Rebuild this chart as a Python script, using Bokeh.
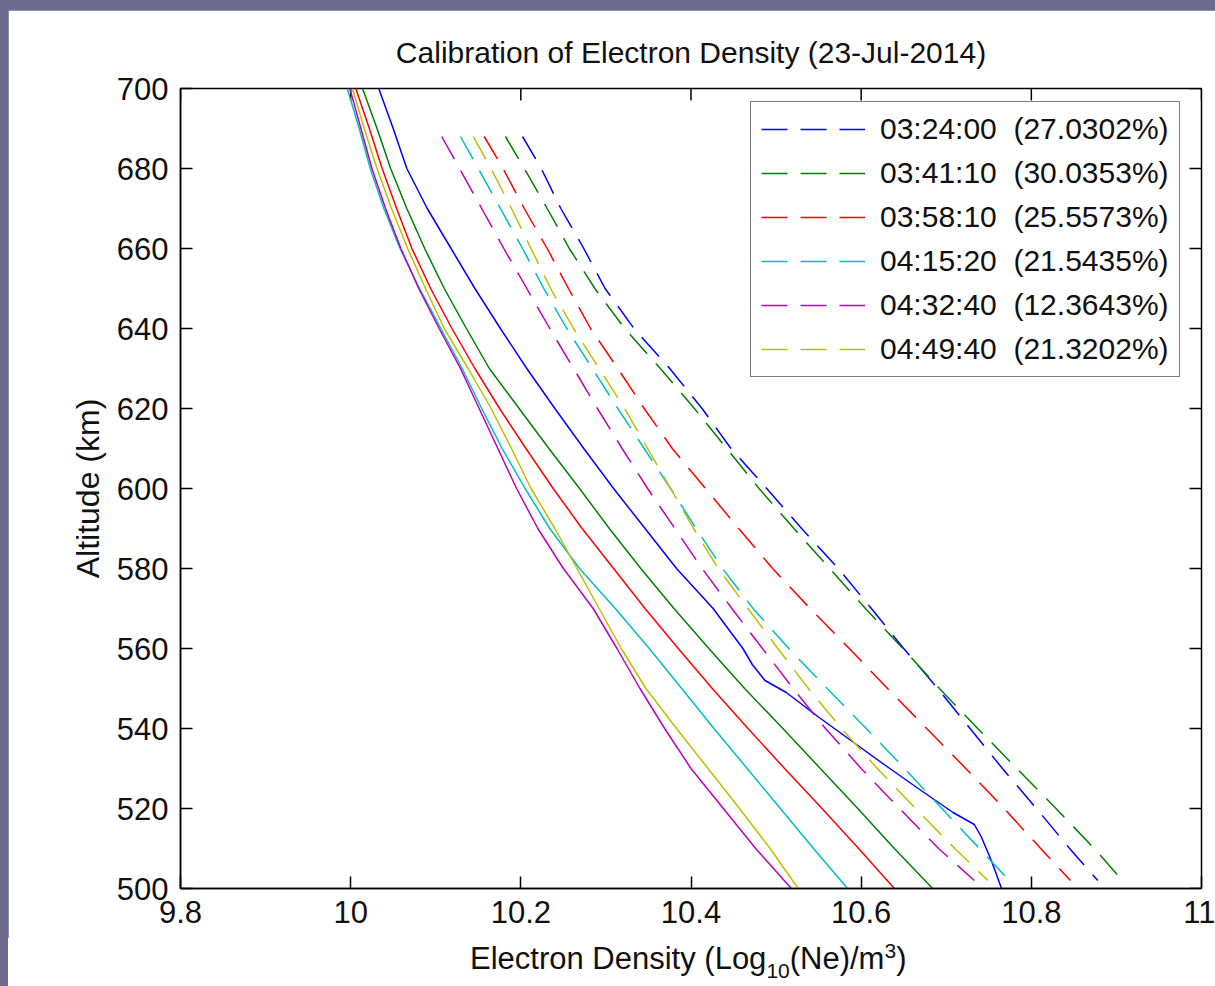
from bokeh.plotting import figure
from bokeh.models import FixedTicker, Legend, LegendItem, Range1d, Div
from bokeh.layouts import column, row
from bokeh.embed import file_html
from bokeh.resources import INLINE

# ---------------- data ----------------
ALT_SOLID = [700, 690, 680, 670, 660, 650, 640, 630, 620, 610, 600,
             590, 580, 570, 560, 550, 540, 530, 520, 510, 500]
ALT_SOLID_BLUE = [700, 690, 680, 670, 660, 650, 640, 630, 620, 610, 600, 590, 580,
                  570, 560, 556, 552, 549, 543, 537, 531, 525, 519, 516, 513, 507, 500]
ALT_DASH = [688, 680, 670, 660, 650, 640, 630, 620, 610, 600,
            590, 580, 570, 560, 550, 540, 530, 520, 510, 502]

solid_blue = [10.033, 10.050, 10.066, 10.090, 10.118, 10.146, 10.176, 10.207, 10.240, 10.274,
              10.309, 10.346, 10.383, 10.426, 10.461, 10.472, 10.487, 10.512, 10.549, 10.588,
              10.627, 10.667, 10.708, 10.733, 10.741, 10.753, 10.765]
solid_green = [10.014, 10.031, 10.047, 10.066, 10.087, 10.110, 10.136, 10.163, 10.198, 10.233,
               10.269, 10.304, 10.341, 10.380, 10.421, 10.463, 10.508, 10.552, 10.596, 10.639, 10.684]
solid_red = [10.006, 10.022, 10.037, 10.054, 10.072, 10.094, 10.119, 10.146, 10.175, 10.206,
             10.238, 10.272, 10.309, 10.346, 10.385, 10.425, 10.467, 10.510, 10.554, 10.597, 10.639]
solid_cyan = [9.996, 10.010, 10.023, 10.039, 10.058, 10.081, 10.106, 10.131, 10.154, 10.178,
              10.205, 10.234, 10.269, 10.311, 10.351, 10.389, 10.427, 10.466, 10.505, 10.544, 10.584]
solid_magenta = [9.999, 10.012, 10.025, 10.041, 10.059, 10.080, 10.104, 10.129, 10.151, 10.173,
                 10.195, 10.220, 10.250, 10.285, 10.313, 10.340, 10.369, 10.400, 10.438, 10.476, 10.518]
solid_yellow = [10.002, 10.016, 10.031, 10.048, 10.067, 10.088, 10.110, 10.138, 10.165, 10.189,
                10.212, 10.240, 10.266, 10.292, 10.318, 10.347, 10.383, 10.420, 10.457, 10.493, 10.526]

dash_blue = [10.202, 10.224, 10.247, 10.274, 10.299, 10.333, 10.375, 10.413, 10.447, 10.489,
             10.530, 10.573, 10.612, 10.650, 10.690, 10.728, 10.766, 10.806, 10.845, 10.878]
dash_green = [10.182, 10.204, 10.231, 10.257, 10.287, 10.322, 10.364, 10.404, 10.442, 10.480,
              10.521, 10.563, 10.605, 10.649, 10.692, 10.737, 10.783, 10.829, 10.874, 10.907]
dash_red = [10.157, 10.179, 10.204, 10.231, 10.256, 10.282, 10.314, 10.345, 10.378, 10.417,
            10.456, 10.496, 10.540, 10.586, 10.631, 10.677, 10.723, 10.768, 10.811, 10.846]
dash_cyan = [10.129, 10.150, 10.176, 10.202, 10.227, 10.254, 10.284, 10.314, 10.345, 10.376,
             10.406, 10.437, 10.473, 10.515, 10.560, 10.606, 10.651, 10.695, 10.739, 10.774]
dash_magenta = [10.107, 10.128, 10.154, 10.180, 10.207, 10.234, 10.262, 10.290, 10.319, 10.349,
                10.381, 10.413, 10.448, 10.484, 10.520, 10.558, 10.600, 10.645, 10.691, 10.733]
dash_yellow = [10.144, 10.165, 10.189, 10.212, 10.235, 10.262, 10.292, 10.322, 10.349, 10.376,
               10.403, 10.432, 10.467, 10.502, 10.538, 10.577, 10.619, 10.664, 10.710, 10.749]

times = ["03:24:00", "03:41:10", "03:58:10", "04:15:20", "04:32:40", "04:49:40"]
percents = ["27.0302", "30.0353", "25.5573", "21.5435", "12.3643", "21.3202"]
colors = ["#0000ff", "#008000", "#ff0000", "#00bfbf", "#bf00bf", "#bfbf00"]

X_TICKS = [9.8, 10.0, 10.2, 10.4, 10.6, 10.8, 11.0]
X_TICK_LABELS = ["9.8", "10", "10.2", "10.4", "10.6", "10.8", "11"]
Y_TICKS = [500, 520, 540, 560, 580, 600, 620, 640, 660, 680, 700]
Y_TICK_LABELS = ["500", "520", "540", "560", "580", "600", "620", "640", "660", "680", "700"]

TITLE = "Calibration of Electron Density (23-Jul-2014)"
YLABEL = "Altitude (km)"
XLABEL_MAIN = "Electron Density (Log"
XLABEL_SUB = "10"
XLABEL_MID = "(Ne)/m"
XLABEL_SUP = "3"
XLABEL_END = ")"

FONT = "Liberation Sans"
TEXT_COLOR = "#111111"
FRAME_BG = "#6e6c8e"

X0, X1 = 9.8, 11.0
Y0, Y1 = 500, 700

# ---------------- figure ----------------
p = figure(width=1207, height=928, x_range=Range1d(X0, X1), y_range=Range1d(Y0, Y1),
           output_backend="svg", toolbar_location=None,
           min_border_left=172, min_border_right=14, min_border_top=78, min_border_bottom=50)
p.margin = (10, 0, 0, 8)
p.background_fill_color = "white"
p.border_fill_color = "white"
p.outline_line_color = "black"
p.outline_line_width = 1.5
p.grid.visible = False

p.title.text = TITLE
p.title.text_font = FONT
p.title.text_font_size = "30px"
p.title.text_font_style = "normal"
p.title.text_color = TEXT_COLOR
p.title.align = "center"
p.title.standoff = 39

def style_axis(ax):
    ax.major_tick_in = 12
    ax.major_tick_out = 0
    ax.minor_tick_line_color = None
    ax.axis_line_color = "black"
    ax.axis_line_width = 1.5
    ax.major_tick_line_color = "black"
    ax.major_tick_line_width = 1.5
    ax.major_label_text_font = FONT
    ax.major_label_text_color = TEXT_COLOR
    ax.major_label_text_font_size = "31px"

xa = p.xaxis[0]
xa.ticker = FixedTicker(ticks=X_TICKS)
xa.major_label_overrides = {t: s for t, s in zip(X_TICKS, X_TICK_LABELS)}
style_axis(xa)
xa.major_label_standoff = 12

ya = p.yaxis[0]
ya.ticker = FixedTicker(ticks=Y_TICKS)
ya.major_label_overrides = {t: s for t, s in zip(Y_TICKS, Y_TICK_LABELS)}
style_axis(ya)
ya.major_label_standoff = 12
ya.axis_label = YLABEL
ya.axis_label_text_font = FONT
ya.axis_label_text_font_size = "32px"
ya.axis_label_text_font_style = "normal"
ya.axis_label_text_color = TEXT_COLOR
ya.axis_label_standoff = 8

# inward ticks on the top and right edges of the box (tick length 12 px)
tick_len_y = 12 * (Y1 - Y0) / 800.0
tick_len_x = 12 * (X1 - X0) / 1021.0
p.segment(x0=X_TICKS, y0=[Y1] * len(X_TICKS), x1=X_TICKS, y1=[Y1 - tick_len_y] * len(X_TICKS),
          line_color="black", line_width=1.5)
p.segment(x0=[X1] * len(Y_TICKS), y0=Y_TICKS, x1=[X1 - tick_len_x] * len(Y_TICKS), y1=Y_TICKS,
          line_color="black", line_width=1.5)

# ---------------- lines ----------------
solids = [solid_blue, solid_green, solid_red, solid_cyan, solid_magenta, solid_yellow]
dashes = [dash_blue, dash_green, dash_red, dash_cyan, dash_magenta, dash_yellow]

for i, s in enumerate(solids):
    alts = ALT_SOLID_BLUE if i == 0 else ALT_SOLID
    p.line(x=s, y=alts, line_color=colors[i], line_width=1.5)

items = []
for i, d in enumerate(dashes):
    r = p.line(x=d, y=ALT_DASH, line_color=colors[i], line_width=1.5, line_dash="26 13")
    items.append(LegendItem(label=f"{times[i]}\u00a0 ({percents[i]}%)", renderers=[r]))

legend = Legend(items=items, location=(570, 511))
legend.label_text_font = FONT
legend.label_text_font_size = "30px"
legend.label_text_color = TEXT_COLOR
legend.border_line_color = "black"
legend.border_line_width = 1.5
legend.background_fill_color = "white"
legend.background_fill_alpha = 1.0
legend.padding = 10
legend.spacing = 10
legend.margin = 0
legend.glyph_width = 104
legend.glyph_height = 34
legend.label_height = 34
legend.label_standoff = 15
p.add_layout(legend)

# ---------------- x-axis label (with subscript / superscript) ----------------
strip = Div(text=f'<div style="width:8px;height:48px;background:{FRAME_BG};"></div>',
            width=8, height=48, margin=(0, 0, 0, 0),
            styles={"background-color": FRAME_BG})
xlabel_html = (
    f'<div style="width:1207px;height:48px;margin:0;padding:0;background:#ffffff;'
    f'font-family:\'{FONT}\';font-size:31px;color:{TEXT_COLOR};line-height:42px;'
    f'text-align:left;text-indent:462px;white-space:nowrap;">'
    f'{XLABEL_MAIN}'
    f'<span style="font-size:21px;position:relative;top:9px;">{XLABEL_SUB}</span>'
    f'{XLABEL_MID}'
    f'<span style="font-size:21px;position:relative;top:-11px;">{XLABEL_SUP}</span>'
    f'{XLABEL_END}'
    f'</div>'
)
xlabel = Div(text=xlabel_html, width=1207, height=48, margin=(0, 0, 0, 0),
             styles={"background-color": "white"})

bottom = row(strip, xlabel, spacing=0, styles={"background-color": FRAME_BG})
layout = column(p, bottom, spacing=0, styles={"background-color": FRAME_BG})

open("out.html", "w").write(file_html(layout, INLINE))
